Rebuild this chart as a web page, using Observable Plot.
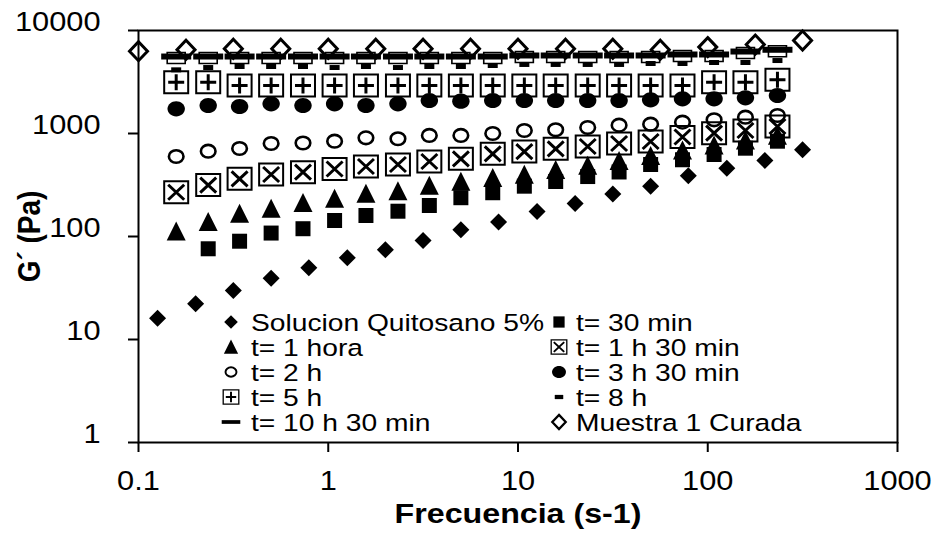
<!DOCTYPE html>
<html><head><meta charset="utf-8">
<script src="https://cdn.jsdelivr.net/npm/d3@7"></script>
<script src="https://cdn.jsdelivr.net/npm/@observablehq/plot@0.6"></script>
<style>
body{margin:0;background:#fff}
#wrap{position:relative;width:935px;height:536px;font-family:"Liberation Sans",Arial,sans-serif}
#legend{position:absolute;left:0;top:0}
</style></head><body><div id="wrap"></div>
<script>
// ---- data ----
const seriesNames = ["Solucion Quitosano 5%", "t= 30 min", "t= 1 hora", "t= 1 h 30 min", "t= 2 h",
  "t= 3 h 30 min", "t= 5 h", "t= 8 h", "t= 10 h 30 min", "Muestra 1 Curada"];
const fSol = [0.126, 0.2, 0.316, 0.5, 0.79, 1.26, 2, 3.16, 5, 7.9, 12.6, 20, 31.6, 50, 79, 126, 200, 316];
const fT = [0.158, 0.233, 0.341, 0.5, 0.736, 1.08, 1.58, 2.33, 3.41, 5, 7.36, 10.8, 15.8, 23.3, 34.1, 50, 73.6, 108, 158, 233];
const fT30 = [0.233, 0.341, 0.5, 0.736, 1.08, 1.58, 2.33, 3.41, 5, 7.36, 10.8, 15.8, 23.3, 34.1, 50, 73.6, 108, 158, 233];
const fMuestra = [0.1, 0.178, 0.316, 0.562, 1, 1.78, 3.16, 5.62, 10, 17.8, 31.6, 56.2, 100, 178, 316];

const gSol = [16.1, 22.2, 29.9, 39.4, 49.7, 62.1, 74.3, 91.5, 116, 138, 175, 209, 259, 307, 388, 460, 547, 695];
const g30min = [76, 90, 108, 119, 143, 160, 176, 200, 238, 266, 308, 342, 382, 423, 500, 556, 625, 720, 842];
const g1h = [112, 138, 166, 186, 211, 232, 260, 275, 311, 340, 370, 397, 442, 486, 541, 605, 684, 765, 855, 950];
const g1h30 = [269, 316, 363, 400, 421, 452, 478, 500, 535, 568, 635, 668, 710, 748, 800, 836, 925, 1007, 1069, 1169];
const g2h = [598, 673, 715, 800, 809, 842, 908, 889, 957, 957, 1000, 1069, 1086, 1143, 1205, 1231, 1288, 1358, 1439, 1496];
const g3h30 = [1737, 1871, 1829, 1942, 1871, 1942, 1871, 1942, 2091, 2060, 2091, 2091, 2091, 2091, 2091, 2124, 2173, 2173, 2222, 2339];
const g5h = [3148, 3148, 2924, 2924, 2924, 2924, 2924, 2924, 2924, 2924, 2924, 2924, 2924, 2924, 2924, 2924, 2924, 3148, 3148, 3320];
const g8h = [4150, 4370, 4470, 4470, 4470, 4370, 4470, 4370, 4470, 4470, 4570, 4680, 4680, 4680, 4680, 4780, 4780, 4890, 4890, 5110];
const g10h30 = [5590, 5590, 5590, 5590, 5590, 5590, 5590, 5590, 5590, 5590, 5590, 5720, 5720, 5720, 5720, 5720, 5850, 5850, 6250, 6500];
const gMuestra = [6300, 6500, 6650, 6650, 6650, 6650, 6650, 6650, 6650, 6650, 6650, 6500, 6900, 7300, 8000];

const xTicks = [0.1, 1, 10, 100, 1000];
const yTicks = [1, 10, 100, 1000, 10000];
const xLabel = "Frecuencia (s-1)";
const yLabel = "G\u00B4 (Pa)";

// ---- helpers ----
const rows = (fs, gs) => fs.map((f, i) => ({f, g: gs[i]}));
const sym = fn => ({draw(ctx) { fn(ctx); }});
function ellipse(ctx, rx, ry) {
  const k = 0.5523;
  ctx.moveTo(rx, 0);
  ctx.bezierCurveTo(rx, ry * k, rx * k, ry, 0, ry);
  ctx.bezierCurveTo(-rx * k, ry, -rx, ry * k, -rx, 0);
  ctx.bezierCurveTo(-rx, -ry * k, -rx * k, -ry, 0, -ry);
  ctx.bezierCurveTo(rx * k, -ry, rx, -ry * k, rx, 0);
  ctx.closePath();
}
const S = {
  diamondFill: sym(c => { c.moveTo(0, -8.5); c.lineTo(8.5, 0); c.lineTo(0, 8.5); c.lineTo(-8.5, 0); c.closePath(); }),
  squareFill: sym(c => { c.rect(-7.5, -7.5, 15, 15); }),
  triangle: sym(c => { c.moveTo(0, -10); c.lineTo(9.5, 9); c.lineTo(-9.5, 9); c.closePath(); }),
  circleOpen: sym(c => ellipse(c, 7.3, 6.3)),
  circleFill: sym(c => ellipse(c, 8.7, 7.6)),
  box: sym(c => { c.rect(-12, -11, 24, 22); }),
  times: sym(c => { c.moveTo(-8, -7.5); c.lineTo(8, 7.5); c.moveTo(-8, 7.5); c.lineTo(8, -7.5); }),
  plus: sym(c => { c.moveTo(-8, 0); c.lineTo(8, 0); c.moveTo(0, -8); c.lineTo(0, 8); }),
  dashSmall: sym(c => { c.rect(-5, -2.5, 10, 5); }),
  dashThick: sym(c => { c.rect(-15, -3, 30, 6); }),
  rectOpen: sym(c => { c.rect(-9, -4, 18, 11); }),
  diamondOpen: sym(c => { c.moveTo(0, -9.5); c.lineTo(9, 0); c.lineTo(0, 9.5); c.lineTo(-9, 0); c.closePath(); })
};

const dSol = rows(fSol, gSol), d30 = rows(fT30, g30min), d1h = rows(fT, g1h), d1h30 = rows(fT, g1h30),
  d2h = rows(fT, g2h), d3h30 = rows(fT, g3h30), d5h = rows(fT, g5h), d8h = rows(fT, g8h),
  d10h30 = rows(fT, g10h30), dM = rows(fMuestra, gMuestra);

const fill = (data, symbol) => Plot.dot(data, {x: "f", y: "g", symbol, fill: "black", stroke: "none"});
const line = (data, symbol, w) => Plot.dot(data, {x: "f", y: "g", symbol, fill: "none", stroke: "black", strokeWidth: w});

const FONT = '"Liberation Sans", Arial, sans-serif';
const TICK_FS = 27, TITLE_FS = 28, LEG_FS = 23.5;
const SX_TICK = 1.14, SX_TITLE = 1.15, SX_LEG = 1.2;
const chart = Plot.plot({
  width: 935, height: 536,
  marginLeft: 138, marginRight: 38, marginTop: 30, marginBottom: 94,
  style: {fontFamily: FONT, fontSize: TICK_FS + "px", color: "black", background: "white", overflow: "visible"},
  x: {type: "log", domain: [0.1, 1000]},
  y: {type: "log", domain: [1, 10000]},
  marks: [
    Plot.axisX({ticks: xTicks, tickFormat: d => String(d), tickSize: 10, tickPadding: 37, strokeWidth: 2,
      fontSize: TICK_FS, label: null}),
    Plot.axisX({ticks: [], label: xLabel, labelAnchor: "center", labelOffset: 80, labelArrow: "none", fontSize: TITLE_FS}),
    Plot.axisY({ticks: yTicks, tickFormat: d => String(d), tickSize: 10, tickPadding: 28, strokeWidth: 2,
      fontSize: TICK_FS, label: null}),
    Plot.axisY({ticks: [], label: yLabel, labelAnchor: "center", labelOffset: 99, labelArrow: "none", fontSize: TITLE_FS}),
    Plot.frame({stroke: "black", strokeWidth: 2}),
    fill(dSol, S.diamondFill),
    fill(d30, S.squareFill),
    fill(d1h, S.triangle),
    line(d1h30, S.box, 2),
    line(d1h30, S.times, 3),
    line(d2h, S.circleOpen, 2.6),
    fill(d3h30, S.circleFill),
    line(d5h, S.box, 2),
    line(d5h, S.plus, 3),
    fill(d8h, S.dashSmall),
    line(d10h30, S.rectOpen, 1.6),
    fill(d10h30, S.dashThick),
    line(dM, S.diamondOpen, 3)
  ]
});

// stretch text horizontally like the reference
function stretch(t, sx, rotated) {
  let tr = t.getAttribute("transform") || "";
  if (t.hasAttribute("x") || t.hasAttribute("y")) {
    const x = +t.getAttribute("x") || 0, y = +t.getAttribute("y") || 0;
    t.removeAttribute("x"); t.removeAttribute("y");
    tr = `translate(${x},${y}) ` + tr;
  }
  t.setAttribute("transform", tr + (rotated ? ` scale(1,${sx})` : ` scale(${sx},1)`));
}
chart.querySelectorAll('[aria-label="x-axis tick label"] text, [aria-label="y-axis tick label"] text').forEach(t => stretch(t, SX_TICK, false));
chart.querySelectorAll('[aria-label="x-axis label"] text').forEach(t => { t.setAttribute("font-weight", "bold"); stretch(t, SX_TITLE, false); });
chart.querySelectorAll('[aria-label="y-axis label"] text').forEach(t => { t.setAttribute("font-weight", "bold"); stretch(t, SX_TITLE, true); });

const wrap = document.getElementById("wrap");
wrap.appendChild(chart);

// ---- legend overlay ----
const legendSyms = [
  [["fill", S.diamondFill]], [["fill", S.squareFill]], [["fill", S.triangle]],
  [["line", S.box, 2], ["line", S.times, 3]], [["line", S.circleOpen, 2.6]], [["fill", S.circleFill]],
  [["line", S.box, 2], ["line", S.plus, 3]], [["fill", S.dashSmall]], [["fill", S.dashThick]], [["line", S.diamondOpen, 3]]
];
const legendScale = [0.8, 0.75, 0.75, 0.65, 0.75, 0.8, 0.65, 0.85, 0.62, 0.75];
const colMarkX = [231, 559], colTextX = [251, 576], rowY0 = 322, rowDY = 25;
const lg = d3.select(wrap).append("svg").attr("id", "legend").attr("width", 935).attr("height", 536)
  .style("font-family", FONT).style("font-size", LEG_FS + "px");
seriesNames.forEach((name, i) => {
  const col = i % 2, row = Math.floor(i / 2), y = rowY0 + row * rowDY;
  const g = lg.append("g").attr("transform", `translate(${colMarkX[col]},${y}) scale(${legendScale[i]})`);
  legendSyms[i].forEach(([kind, s, w]) => {
    const p = d3.path(); s.draw(p);
    g.append("path").attr("d", p.toString())
      .attr("fill", kind === "fill" ? "black" : "none")
      .attr("stroke", kind === "fill" ? "none" : "black")
      .attr("stroke-width", w || 0);
  });
  lg.append("text").attr("transform", `translate(${colTextX[col]},${y + 8.5}) scale(${SX_LEG},1)`).text(name);
});
</script></body></html>
